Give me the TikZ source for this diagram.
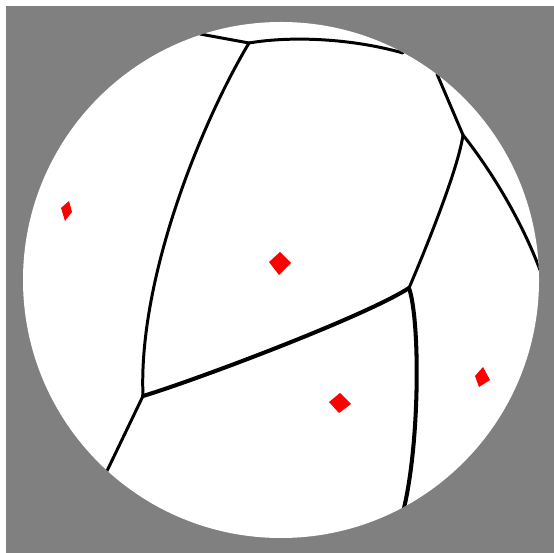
\documentclass[tikz,border=0pt]{standalone}
\usepackage{tikz}
\tikzset{
cell_edge/.style={draw=black, line width=1.7pt, line cap=round, line join=round},
thick_edge/.style={cell_edge, line width=2.3pt},
site/.style={fill=red, draw=none},
sphere/.style={fill=white, draw=none}
}

\begin{document}
\begin{tikzpicture}[x=0.02cm, y=-0.02cm]
    \useasboundingbox (0,0) rectangle (554,553);
    \fill[gray] (6,6) rectangle (554,553);
    \fill[sphere] (281,280) circle [radius=258];
    \coordinate (vert_1) at (249,43);
    \coordinate (vert_2) at (143,396);
    \coordinate (vert_3) at (409,288);
    \coordinate (vert_4) at (463,135);
    \coordinate (rim_1) at (200,34);
    \coordinate (rim_2) at (403,53);
    \coordinate (rim_3) at (437,74);
    \coordinate (rim_4) at (540,270);
    \coordinate (rim_5) at (106,473);
    \coordinate (rim_6) at (404,508);
    \begin{scope}
        \clip (281,280) circle [radius=258];
        \draw[cell_edge] (rim_1) -- (vert_1);
        \draw[cell_edge] (vert_1) .. controls (290,36) and (350,38) .. (rim_2);
        \draw[cell_edge] (vert_1) .. controls (200,125) and (138,280) .. (vert_2);
        \draw[cell_edge] (vert_2) -- (rim_5);
        \draw[thick_edge] (vert_2) .. controls (193,381) and (364,317) .. (vert_3);
        \draw[cell_edge] (vert_3) .. controls (424,253) and (458,170) .. (vert_4);
        \draw[cell_edge] (vert_4) -- (rim_3);
        \draw[cell_edge] (vert_4) .. controls (493,173) and (522,222) .. (rim_4);
        \draw[thick_edge] (vert_3) .. controls (420,320) and (420,440) .. (rim_6);
    \end{scope}
    \fill[site] (69,201) -- (72,212) -- (65,221) -- (61,208) -- cycle;
    \fill[site] (280,252) -- (291,263) -- (279,275) -- (269,262) -- cycle;
    \fill[site] (340,393) -- (351,404) -- (339,413) -- (329,402) -- cycle;
    \fill[site] (483,367) -- (490,380) -- (479,387) -- (475,376) -- cycle;
\end{tikzpicture}
\end{document}
